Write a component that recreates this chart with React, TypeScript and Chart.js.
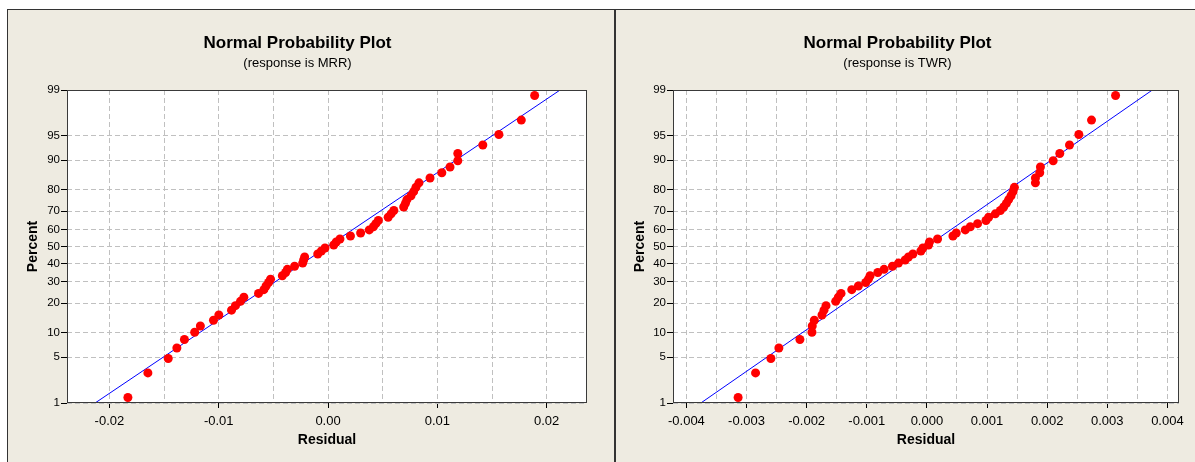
import React, { useEffect, useRef } from "react";
import { Chart, registerables } from "chart.js";

Chart.register(...registerables);

// ---------------- data ----------------
// Plotting positions (percent) of the 56 ordered residuals
const plotPercent = [
  1.24, 3.01, 4.79, 6.56, 8.33, 10.11, 11.88, 13.65, 15.43, 17.2, 18.97, 20.74, 22.52, 24.29,
  26.06, 27.84, 29.61, 31.38, 33.16, 34.93, 36.7, 38.48, 40.25, 42.02, 43.79, 45.57, 47.34, 49.11,
  50.89, 52.66, 54.43, 56.21, 57.98, 59.75, 61.52, 63.3, 65.07, 66.84, 68.62, 70.39, 72.16, 73.94,
  75.71, 77.48, 79.26, 81.03, 82.8, 84.57, 86.35, 88.12, 89.89, 91.67, 93.44, 95.21, 96.99, 98.76,
];

// Ordered residuals, response MRR
const mrrResiduals = [
  -0.01831, -0.01648, -0.01462, -0.01383, -0.01314, -0.0122, -0.01168, -0.01048, -0.00999, -0.00883,
  -0.00847, -0.00801, -0.0077, -0.00636, -0.00587, -0.00567, -0.00544, -0.00526, -0.00418, -0.00388,
  -0.00372, -0.00306, -0.00232, -0.00223, -0.00214, -0.00094, -0.00061, -0.00028, 0.00052, 0.00075,
  0.00109, 0.00205, 0.00298, 0.00377, 0.00415, 0.00437, 0.0046, 0.0055, 0.00577, 0.00602,
  0.00692, 0.00708, 0.00722, 0.00759, 0.00783, 0.00804, 0.00832, 0.00933, 0.01041, 0.01116,
  0.01187, 0.01187, 0.01416, 0.01563, 0.01768, 0.0189,
];

// Ordered residuals, response TWR
const twrResiduals = [
  -0.00314, -0.00285, -0.002595, -0.002462, -0.002112, -0.001912, -0.001907, -0.001873, -0.001745, -0.001712,
  -0.001678, -0.001517, -0.001473, -0.001428, -0.00125, -0.00114, -0.001017, -0.000973, -0.000945, -0.000817,
  -0.000712, -0.000573, -0.000473, -0.000362, -0.000307, -0.000233, -0.0001, -0.000067, 0.000027, 0.000043,
  0.000177, 0.000433, 0.000488, 0.000638, 0.000722, 0.000843, 0.000983, 0.001027, 0.001138, 0.001222,
  0.001277, 0.001322, 0.00136, 0.0014, 0.001433, 0.001455, 0.001805, 0.001805, 0.001877, 0.001888,
  0.0021, 0.00221, 0.002372, 0.002527, 0.002738, 0.003138,
];

// Fitted normal line end points (percent 1 and 99)
const fitPercent = [1, 99];
const mrrFitResidual = [-0.02131, 0.02123];
const twrFitResidual = [-0.00376, 0.00375];

// Axes
const percentTicks = [1, 5, 10, 20, 30, 40, 50, 60, 70, 80, 90, 95, 99];
const mrrXRange = [-0.02388, 0.02369];
const mrrXMajor = [-0.02, -0.01, 0, 0.01, 0.02];
const mrrXLabels = ["-0.02", "-0.01", "0.00", "0.01", "0.02"];
const mrrXMinor = [-0.015, -0.005, 0.005, 0.015];
const twrXRange = [-0.004223, 0.004193];
const twrXMajor = [-0.004, -0.003, -0.002, -0.001, 0, 0.001, 0.002, 0.003, 0.004];
const twrXLabels = ["-0.004", "-0.003", "-0.002", "-0.001", "0.000", "0.001", "0.002", "0.003", "0.004"];
const twrXMinor = [-0.0035, -0.0025, -0.0015, -0.0005, 0.0005, 0.0015, 0.0025, 0.0035];

// ---------------- helpers ----------------
// inverse standard normal CDF (probability-scale transform)
function probit(p: number): number {
  const a = [-3.969683028665376e1, 2.209460984245205e2, -2.759285104469687e2, 1.38357751867269e2, -3.066479806614716e1, 2.506628277459239];
  const b = [-5.447609879822406e1, 1.615858368580409e2, -1.556989798598866e2, 6.680131188771972e1, -1.328068155288572e1];
  const c = [-7.784894002430293e-3, -3.223964580411365e-1, -2.400758277161838, -2.549732539343734, 4.374664141464968, 2.938163982698783];
  const d = [7.784695709041462e-3, 3.224671290700398e-1, 2.445134137142996, 3.754408661907416];
  const plow = 0.02425;
  if (p < plow) {
    const q = Math.sqrt(-2 * Math.log(p));
    return (((((c[0] * q + c[1]) * q + c[2]) * q + c[3]) * q + c[4]) * q + c[5]) / ((((d[0] * q + d[1]) * q + d[2]) * q + d[3]) * q + 1);
  }
  if (p > 1 - plow) {
    const q = Math.sqrt(-2 * Math.log(1 - p));
    return -(((((c[0] * q + c[1]) * q + c[2]) * q + c[3]) * q + c[4]) * q + c[5]) / ((((d[0] * q + d[1]) * q + d[2]) * q + d[3]) * q + 1);
  }
  const q = p - 0.5;
  const r = q * q;
  return ((((((a[0] * r + a[1]) * r + a[2]) * r + a[3]) * r + a[4]) * r + a[5]) * q) / (((((b[0] * r + b[1]) * r + b[2]) * r + b[3]) * r + b[4]) * r + 1);
}

const FONT = "'Liberation Sans', Arial, sans-serif";
const GRID = "#c0c0c0";
const FRAME = "#3a3a3a";

const framePlugin = {
  id: "plotFrame",
  beforeDraw(chart: any) {
    const { ctx, chartArea: a } = chart;
    ctx.save();
    ctx.fillStyle = "#ffffff";
    ctx.fillRect(a.left, a.top, a.right - a.left, a.bottom - a.top);
    ctx.restore();
  },
  afterDatasetsDraw(chart: any) {
    const { ctx, chartArea: a } = chart;
    ctx.save();
    ctx.strokeStyle = FRAME;
    ctx.lineWidth = 1;
    const l = Math.round(a.left) + 0.5;
    const t = Math.round(a.top) + 0.5;
    const r = Math.round(a.right) - 0.5;
    const b = Math.round(a.bottom) - 0.5;
    ctx.strokeRect(l, t, r - l, b - t);
    ctx.restore();
  },
};

type PlotProps = {
  residuals: number[];
  fitResidual: number[];
  xRange: number[];
  xMajor: number[];
  xLabels: string[];
  xMinor: number[];
  subtitle: string;
  width: number;
  yAxisWidth: number;
  rightPad: number;
  yTitlePad: number;
};

function ProbPlot(props: PlotProps) {
  const ref = useRef<HTMLCanvasElement | null>(null);
  useEffect(() => {
    if (!ref.current) return;
    const { residuals, fitResidual, xRange, xMajor, xLabels, xMinor } = props;
    const isMajor = (v: number) => xMajor.some((m) => Math.abs(m - v) < 1e-9);
    const labelOf = (v: number) => {
      const i = xMajor.findIndex((m) => Math.abs(m - v) < 1e-9);
      return i >= 0 ? xLabels[i] : "";
    };
    const zMin = probit(percentTicks[0] / 100);
    const zMax = probit(percentTicks[percentTicks.length - 1] / 100);

    const chart = new Chart(ref.current, {
      type: "scatter",
      data: {
        datasets: [
          {
            label: "Residuals",
            data: residuals.map((r, i) => ({ x: r, y: probit(plotPercent[i] / 100) })),
            backgroundColor: "#ff0000",
            borderColor: "#ff0000",
            borderWidth: 0,
            pointRadius: 4.5,
            pointHoverRadius: 4.5,
            order: 0,
          },
          {
            label: "Fit",
            data: fitResidual.map((r, i) => ({ x: r, y: probit(fitPercent[i] / 100) })),
            showLine: true,
            borderColor: "#0000ff",
            borderWidth: 1,
            pointRadius: 0,
            order: 1,
          } as any,
        ],
      },
      options: {
        animation: false,
        responsive: false,
        maintainAspectRatio: false,
        layout: { padding: { left: 0, right: props.rightPad, top: 0, bottom: 0 } },
        plugins: {
          legend: { display: false },
          tooltip: { enabled: false },
          title: {
            display: true,
            text: "Normal Probability Plot",
            color: "#000",
            font: { family: FONT, size: 17, weight: "bold", lineHeight: 1.2 },
            padding: { top: 22.8, bottom: 0 },
          },
          subtitle: {
            display: true,
            text: props.subtitle,
            color: "#000",
            font: { family: FONT, size: 13, lineHeight: 1.2 },
            padding: { top: 2, bottom: 19.2 },
          },
        },
        scales: {
          x: {
            type: "linear",
            min: xRange[0],
            max: xRange[1],
            bounds: "data",
            afterBuildTicks: (scale: any) => {
              scale.ticks = [...xMajor, ...xMinor].sort((p, q) => p - q).map((v) => ({ value: v }));
            },
            afterFit: (scale: any) => {
              scale.height = 59;
            },
            ticks: {
              autoSkip: false,
              maxRotation: 0,
              minRotation: 0,
              padding: 6,
              color: "#000",
              font: { family: FONT, size: 13 },
              callback: (v: any) => labelOf(Number(v)),
            },
            grid: {
              color: GRID,
              lineWidth: 1,
              drawTicks: true,
              tickLength: 5,
              tickColor: (c: any) => (c.tick && isMajor(c.tick.value) ? "#000" : "rgba(0,0,0,0)"),
              tickWidth: 1,
            },
            border: { display: false, dash: [5, 3] },
            title: {
              display: true,
              text: "Residual",
              color: "#000",
              font: { family: FONT, size: 14, weight: "bold", lineHeight: 1.2 },
              padding: { top: 0, bottom: 13.6 },
            },
          },
          y: {
            type: "linear",
            min: zMin,
            max: zMax,
            bounds: "data",
            afterBuildTicks: (scale: any) => {
              scale.ticks = percentTicks.map((p) => ({ value: probit(p / 100) }));
            },
            afterFit: (scale: any) => {
              scale.width = props.yAxisWidth;
            },
            ticks: {
              autoSkip: false,
              padding: 1,
              color: "#000",
              font: { family: FONT, size: 11.5 },
              callback: (_v: any, i: number) => String(percentTicks[i]),
            },
            grid: {
              color: GRID,
              lineWidth: 1,
              drawTicks: true,
              tickLength: 6,
              tickColor: "#000",
              tickWidth: 1,
            },
            border: { display: false, dash: [5, 3] },
            title: {
              display: true,
              text: "Percent",
              color: "#000",
              font: { family: FONT, size: 14, weight: "bold", lineHeight: 1.2 },
              padding: { top: props.yTitlePad, bottom: 0 },
            },
          },
        },
      } as any,
      plugins: [framePlugin],
    });
    return () => chart.destroy();
  }, []);
  return <canvas ref={ref} width={props.width} height={452} style={{ display: "block", width: props.width, height: 452 }} />;
}

export default function App() {
  const beige = "rgb(238,235,225)";
  return (
    <div
      style={{
        position: "absolute",
        left: 0,
        top: 0,
        width: 1195,
        height: 462,
        overflow: "hidden",
        background: "#ffffff",
      }}
    >
      <div
        style={{
          position: "absolute",
          left: 7,
          top: 9,
          width: 608,
          height: 470,
          boxSizing: "border-box",
          background: beige,
          borderLeft: "1px solid #333",
          borderTop: "1px solid #333",
          borderRight: "1px solid #333",
        }}
      />
      <div
        style={{
          position: "absolute",
          left: 615,
          top: 9,
          width: 600,
          height: 470,
          boxSizing: "border-box",
          background: beige,
          borderLeft: "1px solid #333",
          borderTop: "1px solid #333",
        }}
      />
      <div style={{ position: "absolute", left: 8, top: 10 }}>
        <ProbPlot
          residuals={mrrResiduals}
          fitResidual={mrrFitResidual}
          xRange={mrrXRange}
          xMajor={mrrXMajor}
          xLabels={mrrXLabels}
          xMinor={mrrXMinor}
          subtitle="(response is MRR)"
          width={606}
          yAxisWidth={59}
          rightPad={27}
          yTitlePad={16.6}
        />
      </div>
      <div style={{ position: "absolute", left: 616, top: 10 }}>
        <ProbPlot
          residuals={twrResiduals}
          fitResidual={twrFitResidual}
          xRange={twrXRange}
          xMajor={twrXMajor}
          xLabels={twrXLabels}
          xMinor={twrXMinor}
          subtitle="(response is TWR)"
          width={590}
          yAxisWidth={57}
          rightPad={27}
          yTitlePad={15.6}
        />
      </div>
    </div>
  );
}
